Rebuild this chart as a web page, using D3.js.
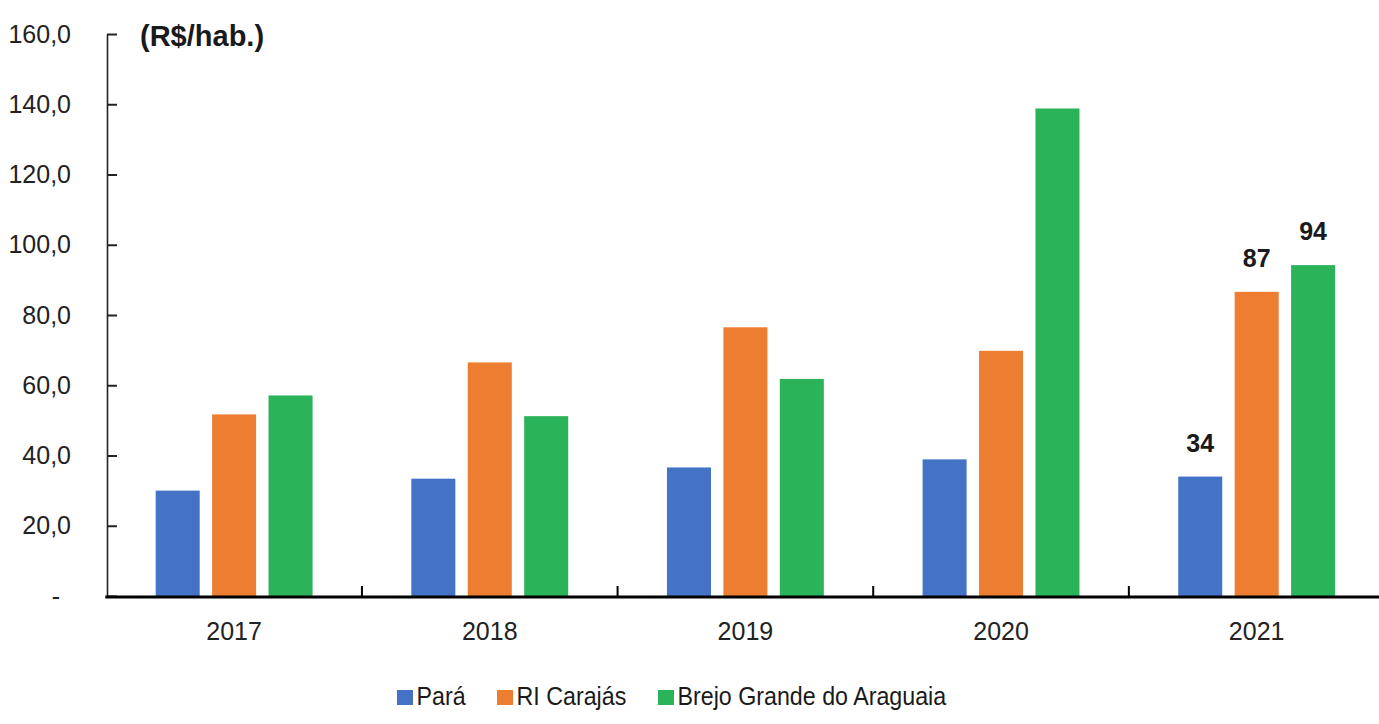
<!DOCTYPE html>
<html>
<head>
<meta charset="utf-8">
<script src="https://cdn.jsdelivr.net/npm/d3@7"></script>
<style>
  html, body { margin: 0; padding: 0; background: #ffffff; }
  svg { display: block; font-family: "Liberation Sans", Arial, sans-serif; }
</style>
</head>
<body>
<svg id="chart" width="1379" height="724"></svg>
<script>
const categories = ["2017", "2018", "2019", "2020", "2021"];
const seriesNames = ["Pará", "RI Carajás", "Brejo Grande do Araguaia"];
const para = [30.0, 33.4, 36.6, 38.9, 34.0];
const riCarajas = [51.7, 66.5, 76.5, 69.8, 86.6];
const brejoGrande = [57.1, 51.2, 61.8, 138.8, 94.2];
const yTicks = [0, 20, 40, 60, 80, 100, 120, 140, 160];
const labelledCategory = "2021";
const colors = ["#4472C4", "#ED7D31", "#2BB35A"];

const seriesValues = [para, riCarajas, brejoGrande];
const data = categories.map((c, i) => ({
  cat: c,
  vals: seriesNames.map((s, j) => ({ series: s, idx: j, value: seriesValues[j][i] }))
}));

const svg = d3.select("#chart");
const plotLeft = 106.3, plotRight = 1384.5, plotTop = 34, plotBottom = 596;

const x0 = d3.scaleBand().domain(categories).range([plotLeft, plotRight]).padding(0);
const x1 = d3.scaleBand().domain(seriesNames).range([0, x0.bandwidth()])
  .paddingInner(0.22).paddingOuter(0.875);
const y = d3.scaleLinear().domain([0, 160]).range([plotBottom, plotTop]);

// bars
const groups = svg.append("g").selectAll("g").data(data).join("g")
  .attr("transform", d => `translate(${x0(d.cat)},0)`);
groups.selectAll("rect").data(d => d.vals).join("rect")
  .attr("x", d => x1(d.series))
  .attr("width", x1.bandwidth())
  .attr("y", d => y(d.value))
  .attr("height", d => y(0) - y(d.value))
  .attr("fill", d => colors[d.idx]);

// value labels for last category
groups.filter(d => d.cat === labelledCategory).selectAll("text.val").data(d => d.vals).join("text")
  .attr("class", "val")
  .attr("x", d => x1(d.series) + x1.bandwidth() / 2)
  .attr("y", d => y(d.value) - 25)
  .attr("text-anchor", "middle")
  .attr("font-weight", "bold")
  .attr("font-size", 25)
  .attr("fill", "#1a1a1a")
  .text(d => d3.format(".0f")(d.value));

// y axis
const yAxis = d3.axisLeft(y).tickValues(yTicks)
  .tickSizeInner(-10).tickSizeOuter(0).tickPadding(36)
  .tickFormat(d => d === 0 ? "-" : d.toFixed(1).replace(".", ","));
const yg = svg.append("g").attr("transform", `translate(${plotLeft + 0.7},0)`).call(yAxis);
yg.select(".domain").attr("stroke", "#222").attr("stroke-width", 1.6);
yg.selectAll(".tick line").attr("stroke", "#222").attr("stroke-width", 2);
yg.selectAll(".tick text").attr("font-size", 25).attr("fill", "#222")
  .attr("font-family", "'Liberation Sans', Arial, sans-serif");
yg.selectAll(".tick").filter(d => d === 0).select("text").attr("x", -47);

// x axis
const xAxis = d3.axisBottom(x0).tickSize(0).tickPadding(26);
const xg = svg.append("g").attr("transform", `translate(0,${plotBottom})`).call(xAxis);
xg.select(".domain").remove();
xg.selectAll(".tick text").attr("font-size", 25).attr("fill", "#222")
  .attr("font-family", "'Liberation Sans', Arial, sans-serif");
svg.append("line")
  .attr("x1", plotLeft - 1).attr("x2", 1379)
  .attr("y1", plotBottom + 1).attr("y2", plotBottom + 1)
  .attr("stroke", "#000").attr("stroke-width", 3.2);
svg.append("g").selectAll("line").data(categories.slice(1)).join("line")
  .attr("x1", d => x0(d)).attr("x2", d => x0(d))
  .attr("y1", plotBottom).attr("y2", plotBottom - 10)
  .attr("stroke", "#000").attr("stroke-width", 2);

// unit title
svg.append("text")
  .attr("x", 140).attr("y", 46)
  .attr("font-weight", "bold").attr("font-size", 29).attr("fill", "#1a1a1a")
  .text("(R$/hab.)");

// legend
const legendX = [397, 497, 658];
const lg = svg.append("g").selectAll("g").data(seriesNames).join("g")
  .attr("transform", (d, i) => `translate(${legendX[i]},0)`);
lg.append("rect").attr("x", 0).attr("y", 690).attr("width", 16).attr("height", 15)
  .attr("fill", (d, i) => colors[i]);
lg.append("text").attr("x", 21).attr("y", 705)
  .attr("font-size", 25).attr("fill", "#1a1a1a")
  .attr("transform", "scale(0.93,1)")
  .attr("transform-origin", "0 0")
  .text(d => d);
</script>
</body>
</html>
